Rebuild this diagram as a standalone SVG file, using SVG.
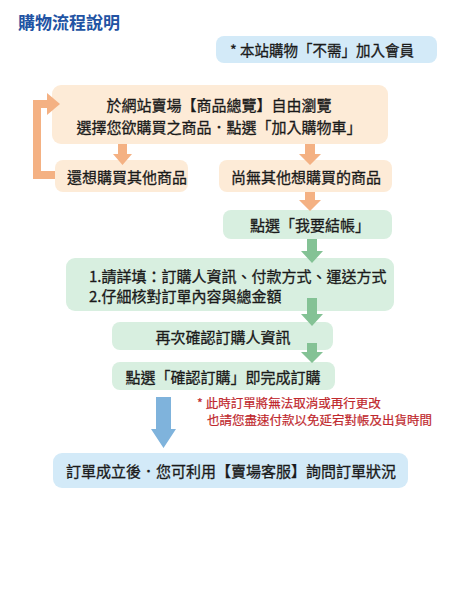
<svg xmlns="http://www.w3.org/2000/svg" width="450" height="600" viewBox="0 0 450 600">
<style>
text{font-family:"Noto Sans CJK TC","Noto Sans CJK SC",sans-serif;fill:#1a1a1a;font-size:15px;stroke:#1a1a1a;stroke-width:0.3}
.title{font-size:17px;font-weight:bold;fill:#2253a3;stroke:none}
.note{font-size:14.5px}
.red{font-size:12.5px;fill:#c0282d;stroke:#c0282d;stroke-width:0.2}
.o{fill:#fdebd7}
.g{fill:#d8efe0}
.b{fill:#d3eaf8}
.oa{fill:#f4b183}
.ga{fill:#84c295}
.ba{fill:#7fb3dc}
.m{text-anchor:middle}
</style>
<rect width="450" height="600" fill="#ffffff"/>
<text class="title" x="18" y="28.5">購物流程說明</text>
<g id="note-member">
<rect class="b" x="216" y="36" width="221" height="27" rx="8"/>
<text class="note" x="230" y="56">* 本站購物「不需」加入會員</text>
</g>
<g id="browse">
<rect class="o" x="52" y="85" width="336" height="59" rx="9"/>
<text class="m" x="219" y="110.5">於網站賣場【商品總覽】自由瀏覽</text>
<text class="m" x="219" y="132.5">選擇您欲購買之商品．點選「加入購物車」</text>
</g>
<g id="more">
<rect class="o" x="55" y="160" width="133" height="32" rx="8"/>
<text x="67" y="182.5">還想購買其他商品</text>
</g>
<g id="nomore">
<rect class="o" x="219" y="160" width="173" height="32" rx="8"/>
<text class="m" x="306" y="182.5">尚無其他想購買的商品</text>
</g>
<g id="checkout">
<rect class="g" x="223" y="210" width="169" height="29" rx="8"/>
<text x="250" y="230.5">點選「我要結帳」</text>
</g>
<g id="fill">
<rect class="g" x="66" y="258" width="328" height="53" rx="9"/>
<text x="89" y="281.5">1.請詳填：訂購人資訊、付款方式、運送方式</text>
<text x="89" y="301.5">2.仔細核對訂單內容與總金額</text>
</g>
<g id="confirm-info">
<rect class="g" x="112" y="322" width="221" height="28" rx="8"/>
<text class="m" x="223" y="342.5">再次確認訂購人資訊</text>
</g>
<g id="confirm-order">
<rect class="g" x="112" y="362" width="223" height="28" rx="8"/>
<text class="m" x="223" y="382.5">點選「確認訂購」即完成訂購</text>
</g>
<g id="warning">
<text class="red" x="197" y="408">* 此時訂單將無法取消或再行更改</text>
<text class="red" x="207" y="425">也請您盡速付款以免延宕對帳及出貨時間</text>
</g>
<g id="done">
<rect class="b" x="53" y="453" width="355" height="35" rx="9"/>
<text class="m" x="231" y="476.5">訂單成立後．您可利用【賣場客服】詢問訂單狀況</text>
</g>
<g id="connectors">
<polygon class="oa" points="118,144 127,144 127,154 132,154 122.5,165 113,154 118,154"/>
<polygon class="oa" points="305,144 315,144 315,154 321,154 310,165 299,154 305,154"/>
<polygon class="oa" points="305,192 315,192 315,200 321,200 310,211 299,200 305,200"/>
<polyline points="55,175 37,175 37,104 48,104" fill="none" stroke="#f4b183" stroke-width="8" stroke-linejoin="miter"/>
<polygon class="oa" points="47,93 60,104 47,115"/>
<polygon class="ga" points="307,239 317,239 317,251 323,251 312,263 301,251 307,251"/>
<polygon class="ga" points="307,298 317,298 317,314 323,314 312,326 301,314 307,314"/>
<polygon class="ga" points="307,343 317,343 317,352 323,352 312,363 301,352 307,352"/>
<polygon class="ba" points="156,397 171,397 171,429 176,429 163.5,448 151,429 156,429"/>
</g>
</svg>
